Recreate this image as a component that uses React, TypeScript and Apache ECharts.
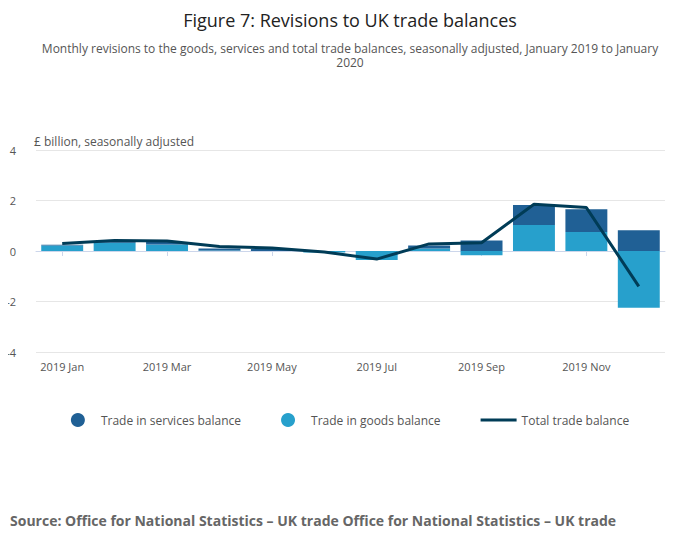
import React, { useEffect, useRef } from 'react'
import * as echarts from 'echarts'

const months = ['2019 Jan', '2019 Feb', '2019 Mar', '2019 Apr', '2019 May', '2019 Jun', '2019 Jul', '2019 Aug', '2019 Sep', '2019 Oct', '2019 Nov', '2019 Dec']
const services = [0.03, 0.05, 0.1, 0.08, 0.08, 0.0, 0.0, 0.12, 0.42, 0.79, 0.9, 0.82]
const goods = [0.22, 0.33, 0.26, 0.02, 0.0, -0.06, -0.36, 0.1, -0.17, 1.03, 0.75, -2.25]
const total = [0.3, 0.42, 0.4, 0.18, 0.12, -0.04, -0.32, 0.28, 0.33, 1.85, 1.72, -1.4]

const FONT = '"Open Sans", "Noto Sans", sans-serif'

const App: React.FC = () => {
  const ref = useRef<HTMLDivElement>(null)

  useEffect(() => {
    if (!ref.current) return
    const chart = echarts.init(ref.current, undefined, { renderer: 'svg' })
    chart.setOption({
      animation: false,
      textStyle: { fontFamily: FONT },
      title: {
        text: 'Figure 7: Revisions to UK trade balances',
        subtext: 'Monthly revisions to the goods, services and total trade balances, seasonally adjusted, January 2019 to January\n2020',
        left: 'center',
        top: 6,
        itemGap: 12,
        textStyle: { fontFamily: FONT, fontSize: 18, fontWeight: 'normal', color: '#222' },
        subtextStyle: { fontFamily: FONT, fontSize: 12, color: '#555', lineHeight: 14, align: 'center' },
      },
      legend: {
        top: 408,
        left: 'center',
        itemGap: 40,
        itemWidth: 36,
        textStyle: { fontFamily: FONT, fontSize: 12, color: '#555' },
        data: [
          { name: 'Trade in services balance', icon: 'circle' },
          { name: 'Trade in goods balance', icon: 'circle' },
          { name: 'Total trade balance', icon: 'path://M0,0 L36,0 L36,3 L0,3 Z' },
        ],
      },
      grid: { left: 36, right: 35, top: 150, bottom: 197 },
      xAxis: {
        type: 'category',
        data: months,
        axisLine: { show: true, lineStyle: { color: '#ccd6eb' } },
        axisTick: { show: true, interval: 1, alignWithLabel: true, lineStyle: { color: '#ccd6eb' } },
        axisLabel: { interval: 1, fontSize: 11, color: '#555', margin: 9 },
      },
      yAxis: {
        type: 'value',
        min: -4,
        max: 4,
        interval: 2,
        name: '£ billion, seasonally adjusted',
        nameLocation: 'end',
        nameGap: 3,
        nameTextStyle: { align: 'left', fontSize: 12, color: '#555', padding: [0, 0, 0, -2] },
        axisLabel: { fontSize: 11, color: '#555', margin: 20 },
        splitLine: { lineStyle: { color: '#e6e6e6' } },
      },
      series: [
        {
          name: 'Trade in goods balance',
          type: 'bar',
          stack: 'b',
          barCategoryGap: '20%',
          itemStyle: { color: '#27a0cc' },
          data: goods,
          z: 2,
        },
        {
          name: 'Trade in services balance',
          type: 'bar',
          stack: 'b',
          itemStyle: { color: '#206095' },
          data: services,
          z: 2,
        },
        {
          name: 'Total trade balance',
          type: 'line',
          symbol: 'none',
          lineStyle: { color: '#003c57', width: 3 },
          itemStyle: { color: '#003c57' },
          data: total,
          z: 3,
        },
      ],
      graphic: [
        {
          type: 'text',
          left: 10,
          top: 513,
          style: {
            text: 'Source: Office for National Statistics – UK trade Office for National Statistics – UK trade',
            font: `bold 14px ${FONT}`,
            fill: '#666',
          },
        },
      ],
    })
    return () => chart.dispose()
  }, [])

  return <div ref={ref} style={{ width: 700, height: 549, margin: -8 }} />
}

export default App
